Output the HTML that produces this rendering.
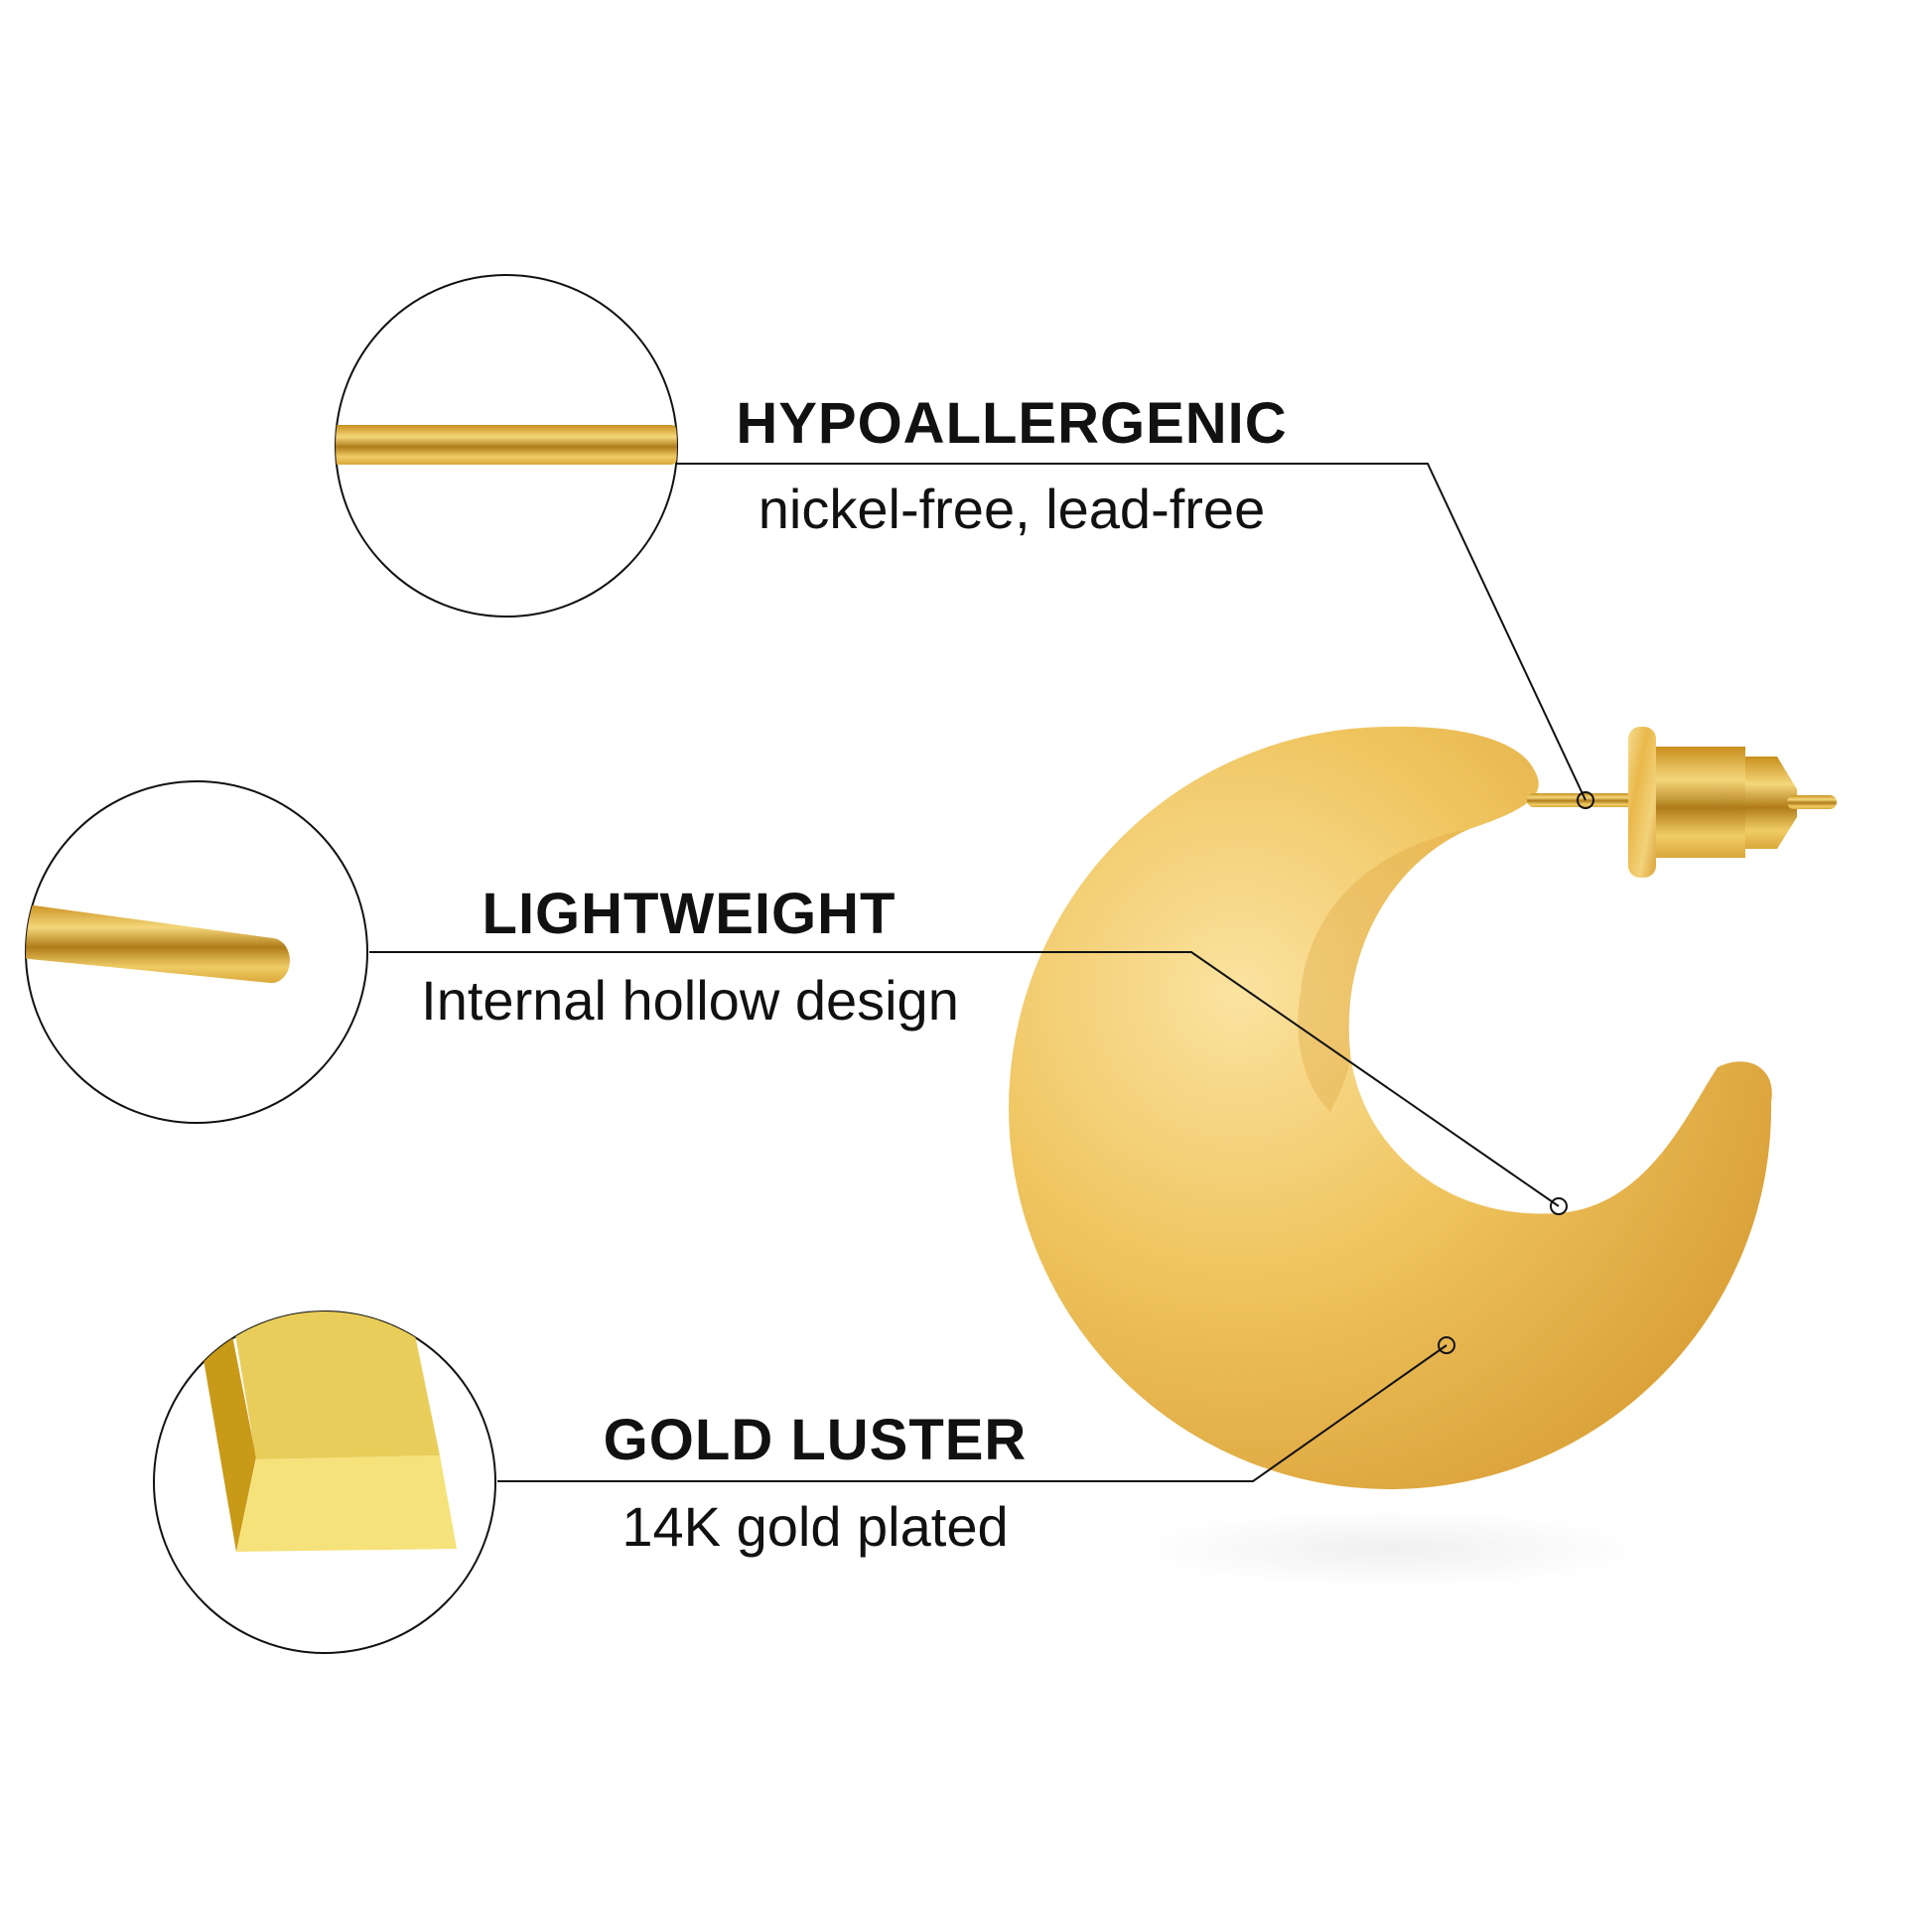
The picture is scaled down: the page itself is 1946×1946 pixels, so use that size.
<!DOCTYPE html>
<html><head><meta charset="utf-8"><style>
body{margin:0;background:#fff}
svg{display:block}
text{font-family:"Liberation Sans","DejaVu Sans",sans-serif;fill:#111}
</style></head><body>
<svg width="1946" height="1946" viewBox="0 0 1946 1946" xmlns="http://www.w3.org/2000/svg">
<defs>
<linearGradient id="g1" x1="0" y1="0" x2="1" y2="1">
<stop offset="0" stop-color="#f6dc90"/><stop offset="0.35" stop-color="#e9b84a"/><stop offset="0.7" stop-color="#f3d27a"/><stop offset="1" stop-color="#d9a23a"/></linearGradient>
<radialGradient id="g2" cx="0.3" cy="0.35" r="0.75">
<stop offset="0" stop-color="#fbe3a0"/><stop offset="0.5" stop-color="#efc45e"/><stop offset="1" stop-color="#dba23a"/></radialGradient>
<linearGradient id="rod" x1="0" y1="0" x2="0" y2="1">
<stop offset="0" stop-color="#c98f1e"/><stop offset="0.3" stop-color="#f4d77a"/><stop offset="0.55" stop-color="#b07c1a"/><stop offset="0.8" stop-color="#f0cc66"/><stop offset="1" stop-color="#d9a83a"/></linearGradient>
<clipPath id="c1"><circle cx="510" cy="449" r="172"/></clipPath>
<clipPath id="c2"><circle cx="198" cy="959" r="172"/></clipPath>
<clipPath id="c3"><circle cx="327" cy="1493" r="172"/></clipPath>
<radialGradient id="sh" cx="0.5" cy="0.5" r="0.5"><stop offset="0" stop-color="#f0f0f0"/><stop offset="1" stop-color="#fff"/></radialGradient>
</defs>
<ellipse cx="1400" cy="1560" rx="260" ry="40" fill="url(#sh)"/>
<path d="M1545,775 C1530,745 1470,730 1400,732 A384 384 0 1 0 1784,1110 C1790,1075 1760,1060 1730,1075 C1700,1120 1660,1215 1570,1222 C1450,1230 1370,1150 1360,1060 C1350,960 1400,870 1480,835 C1540,815 1560,800 1545,775 Z" fill="url(#g2)"/>
<path d="M1360,1060 C1350,960 1400,870 1480,835 C1400,850 1320,900 1310,1000 C1300,1060 1320,1100 1340,1120 C1350,1100 1360,1080 1360,1060Z" fill="#dca33c" opacity="0.35"/>
<rect x="1538" y="799" width="110" height="14" rx="7" fill="url(#rod)"/>
<rect x="1640" y="732" width="28" height="152" rx="12" fill="url(#g1)"/>
<rect x="1668" y="752" width="90" height="112" fill="url(#rod)"/>
<path d="M1758 762 L1790 762 L1810 795 L1810 823 L1790 855 L1758 855Z" fill="url(#rod)"/>
<rect x="1800" y="801" width="50" height="14" rx="7" fill="url(#rod)"/>
<circle cx="510" cy="449" r="172" fill="#fff" stroke="#111" stroke-width="2"/>
<rect x="330" y="428" width="352" height="40" rx="6" fill="url(#rod)" clip-path="url(#c1)"/>
<circle cx="198" cy="959" r="172" fill="#fff" stroke="#111" stroke-width="2"/>
<g clip-path="url(#c2)"><path d="M20 910 L275 945 A18 22 0 0 1 272 990 L20 965Z" fill="url(#rod)"/></g>
<circle cx="327" cy="1493" r="172" fill="#fff" stroke="#111" stroke-width="2"/>
<g clip-path="url(#c3)">
<path d="M200 1340 L233 1340 L258 1468 L238 1563 Z" fill="#c99a18"/>
<path d="M233 1320 L413 1320 L443 1466 L258 1470 Z" fill="#e8cd5a"/>
<path d="M258 1470 L443 1466 L460 1560 L238 1563 Z" fill="#f6e27a"/>
</g>
<g fill="none" stroke="#111" stroke-width="2">
<polyline points="682,467 1438,467 1597,806"/>
<polyline points="372,959 1200,959 1570,1215"/>
<polyline points="501,1492 1262,1492 1457,1355"/>
<circle cx="1597" cy="806" r="8"/><circle cx="1570" cy="1215" r="8"/><circle cx="1457" cy="1355" r="8"/>
</g>
<text x="1019" y="446" font-size="58" font-weight="bold" text-anchor="middle" letter-spacing="1">HYPOALLERGENIC</text>
<text x="1019" y="532" font-size="56" text-anchor="middle">nickel-free, lead-free</text>
<text x="694" y="940" font-size="58" font-weight="bold" text-anchor="middle" letter-spacing="1">LIGHTWEIGHT</text>
<text x="695" y="1027" font-size="56" text-anchor="middle">Internal hollow design</text>
<text x="821" y="1470" font-size="58" font-weight="bold" text-anchor="middle" letter-spacing="1">GOLD LUSTER</text>
<text x="821" y="1557" font-size="56" text-anchor="middle">14K gold plated</text>
</svg>
</body></html>
